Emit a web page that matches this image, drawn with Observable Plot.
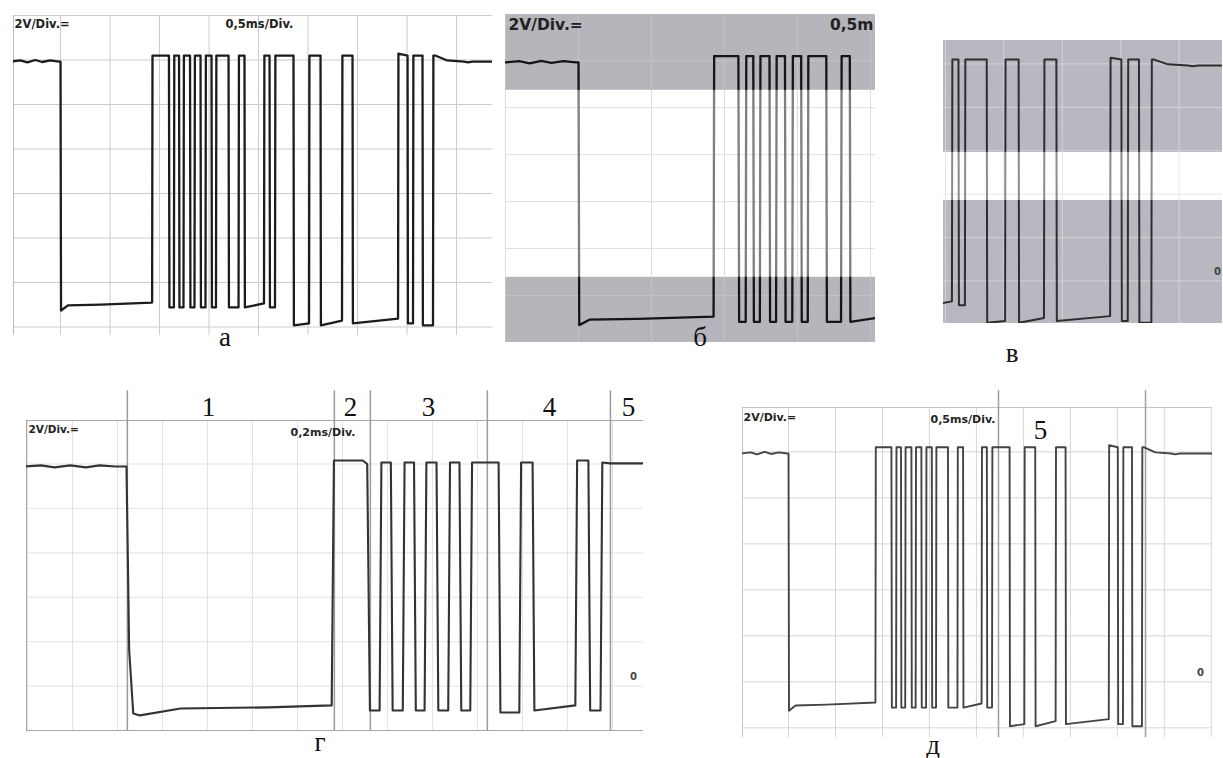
<!DOCTYPE html>
<html><head><meta charset="utf-8">
<script src="https://cdn.jsdelivr.net/npm/d3@7"></script>
<script src="https://cdn.jsdelivr.net/npm/@observablehq/plot@0.6"></script>
<style>
body{margin:0;background:#fff;}
#fig{position:relative;width:1223px;height:758px;overflow:hidden;background:#fff;}
.panel{position:absolute;}
.panel svg{display:block;overflow:hidden;}
.lbl{position:absolute;font-family:"Liberation Serif","Times New Roman",serif;font-size:27px;line-height:1;color:#111;transform:translate(-50%,-50%);}
</style></head><body><div id="fig"></div>
<script>
// ---- data (time in ms, voltage in V) ----
// K-line trace, 0.5 ms/div (panels а, б, в, д show the same capture)
const waveMs = [-0.03,0.07,0.14,0.22,0.29,0.37,0.46,0.475,0.48,0.55,0.88,1.40,
  1.404,1.57, 1.575,1.62, 1.624,1.672, 1.676,1.717, 1.721,1.783, 1.787,1.828, 1.832,1.889, 1.893,1.939,
  1.943,2.0, 2.004,2.045, 2.049,2.172, 2.176,2.273, 2.277,2.333, 2.337,2.53, 2.534,2.586, 2.59,2.641,
  2.645,2.828, 2.832,2.985, 2.989,3.101, 3.105,3.318, 3.322,3.424, 3.428,3.884, 3.888,3.98, 3.984,4.035,
  4.039,4.131, 4.135,4.237, 4.241,4.26,4.38,4.55,4.59,4.64,4.84,5.10];
const waveV = [11.93,11.98,11.89,12.00,11.91,11.98,11.93,11.93,0.74,0.97,1.01,1.10,
  12.20,12.20, 0.88,0.88, 12.20,12.20, 0.88,0.88, 12.20,12.20, 0.88,0.88, 12.20,12.20, 0.88,0.88,
  12.20,12.20, 0.88,0.88, 12.20,12.20, 0.88,0.88, 12.20,12.20, 0.88,1.06, 12.20,12.20, 0.88,0.88,
  12.20,12.20, 0.07,0.16, 12.20,12.20, 0.07,0.29, 12.20,12.20, 0.16,0.38, 12.29,12.20, 0.16,0.16,
  12.20,12.20, 0.07,0.07, 12.20,12.20,11.98,11.93,11.89,11.93,11.93,11.93];
// K-line trace, 0.2 ms/div (panel г)
const gMs = [-0.01,0.06,0.12,0.19,0.26,0.32,0.39,0.44,0.452,0.47,0.50,0.68,1.07,1.352,1.362,1.49,1.51,
  1.522,1.565, 1.573,1.615, 1.623,1.668, 1.676,1.718, 1.726,1.765, 1.773,1.818, 1.826,1.87, 1.878,1.92,
  1.928,1.968, 1.976,2.094, 2.102,2.186, 2.194,2.245, 2.253,2.435, 2.443,2.493, 2.501,2.547, 2.555,2.59,2.75];
const gV = [11.89,11.94,11.85,11.94,11.85,11.94,11.89,11.89,3.6,0.77,0.68,0.99,1.04,1.13,12.16,12.16,12.00,
  0.90,0.90, 12.07,12.07, 0.90,0.90, 12.07,12.07, 0.90,0.90, 12.07,12.07, 0.90,0.90, 12.07,12.07,
  0.90,0.90, 12.07,12.07, 0.81,0.81, 12.07,12.07, 0.90,1.13, 12.16,12.16, 0.90,0.90, 12.07,12.03,12.03];
// message sections of panel г
const sectionBoundsMs = [0.444, 1.364, 1.524, 2.044, 2.591];
const sectionNames = ["1","2","3","4","5"];
const sectionMidMs = [0.804, 1.436, 1.782, 2.32, 2.671];
// section 5 in panel д
const dBoundsMs = [2.71, 4.275];
const dNames = ["5"];
const dMidMs = [3.157];
// logic thresholds (grey zones)
const bandB = [{lo: 0, hi: 2.78}, {lo: 10.74, hi: 13.97}];
const bandV = [{lo: 0.04, hi: 5.71}, {lo: 7.92, hi: 13.08}];
const whiteB = [{lo: 2.78, hi: 10.74}];
const whiteV = [{lo: 5.71, hi: 7.92}];
// scope labels
const voltsDiv = "2V/Div.=";
const timeDivA = "0,5ms/Div.";
const timeDivCut = "0,5m";
const timeDivG = "0,2ms/Div.";
const zeroMark = "0";
const zeroMarkV = 2.4;
const panelLabels = ["а","б","в","г","д"];

// ---- build ----
const fig = document.getElementById("fig");
const wave = waveMs.map((t, i) => ({t, v: waveV[i]}));
const waveG = gMs.map((t, i) => ({t, v: gV[i]}));
const gridMs = d3.range(-0.025, 5.1, 0.5);
const gridGMs = d3.range(0, 2.75, 0.2);
const gridV = d3.range(0, 15, 2);
const sections = sectionMidMs.map((t, i) => ({t, name: sectionNames[i]}));
const dSections = dMidMs.map((t, i) => ({t, name: dNames[i]}));

function grid(xs, xd, color) {
  return [
    Plot.ruleX(xs.filter(t => t >= xd[0] - 1e-6 && t <= xd[1] + 1e-6), {stroke: color, strokeWidth: 1}),
    Plot.ruleY(gridV, {stroke: color, strokeWidth: 1, clip: true})
  ];
}
function label(txt, dx, dy, size, anchor = "top-left", ta = "start") {
  return Plot.text([txt], {frameAnchor: anchor, text: d => d, dx, dy, lineAnchor: "top", textAnchor: ta,
    fontSize: size, fontWeight: "bold", fontFamily: "DejaVu Sans, sans-serif", fill: "#222"});
}
function zero(dx) {
  return Plot.text([zeroMark], {frameAnchor: "right", y: zeroMarkV, text: d => d, dx, textAnchor: "middle",
    fontSize: 10, fontWeight: "bold", fontFamily: "DejaVu Sans, sans-serif", fill: "#444"});
}
function panel(cfg) {
  const svg = Plot.plot({
    width: cfg.w, height: cfg.h,
    marginTop: cfg.mt || 0, marginBottom: cfg.mb || 0, marginLeft: 0, marginRight: 0,
    x: {domain: cfg.xd, axis: null},
    y: {domain: cfg.yd, axis: null},
    style: {background: "transparent", overflow: "hidden"},
    marks: cfg.marks
  });
  const div = document.createElement("div");
  div.className = "panel";
  div.style.left = cfg.left + "px";
  div.style.top = cfg.top + "px";
  div.appendChild(svg);
  fig.appendChild(div);
}

// а
{
  const xd = [0, 4.838], yd = [-0.382, 14];
  panel({left: 13, top: 15, w: 479, h: 320, xd, yd, marks: [
    ...grid(gridMs, xd, "#cbcbcb"),
    Plot.ruleX([xd[0]], {stroke: "#bbb"}),
    Plot.line(wave, {x: "t", y: "v", stroke: "#1c1c1c", strokeWidth: 2.3, clip: true}),
    label(voltsDiv, 1, 4, 11.5),
    label(timeDivA, 212, 4, 11.5)
  ]});
}
// б
{
  const xd = [-0.025, 2.509], yd = [0, 13.97];
  panel({left: 505, top: 14, w: 370, h: 328, xd, yd, marks: [
    Plot.rect(bandB, {x1: xd[0], x2: xd[1], y1: "lo", y2: "hi", fill: "#b5b5bb"}),
    ...grid(gridMs, xd, "#c4c4c4"),
    Plot.line(wave, {x: "t", y: "v", stroke: "#151515", strokeWidth: 2.3, clip: true}),
    Plot.rect(whiteB, {x1: xd[0], x2: xd[1], y1: "lo", y2: "hi", fill: "#fff", fillOpacity: 0.45}),
    label(voltsDiv, 3, 4, 15.5),
    label(timeDivCut, -2, 4, 15.5, "top-right", "end")
  ]});
}
// в
{
  const xd = [2.458, 4.846], yd = [0.04, 13.08];
  panel({left: 943, top: 40, w: 279, h: 283, xd, yd, marks: [
    Plot.rect(bandV, {x1: xd[0], x2: xd[1], y1: "lo", y2: "hi", fill: "#b8b8c0"}),
    ...grid(gridMs, xd, "#d2d2d6"),
    Plot.line(wave, {x: "t", y: "v", stroke: "#2e2e2e", strokeWidth: 2, clip: true}),
    Plot.rect(whiteV, {x1: xd[0], x2: xd[1], y1: "lo", y2: "hi", fill: "#fff", fillOpacity: 0.45}),
    zero(-5)
  ]});
}
// г
{
  const xd = [-0.0044, 2.738], yd = [0, 13.96];
  panel({left: 26, top: 388, w: 617, h: 347, mt: 32, mb: 5, xd, yd, marks: [
    ...grid(gridGMs, xd, "#e2e2e2"),
    Plot.frame({stroke: "#a8a8a8"}),
    Plot.ruleX(sectionBoundsMs, {y1: 0, y2: 15.3, stroke: "#9a9a9a", strokeWidth: 1.5}),
    Plot.text(sections, {x: "t", y: () => 14.55, text: "name", fontSize: 27,
      fontFamily: "Liberation Serif, Times New Roman, serif", fill: "#111"}),
    Plot.line(waveG, {x: "t", y: "v", stroke: "#333", strokeWidth: 2.1, clip: true}),
    label(voltsDiv, 2, 5, 10.5),
    label(timeDivG, 264, 8, 11),
    zero(-10)
  ]});
}
// д
{
  const xd = [-0.015, 4.988], yd = [-0.42, 13.93];
  panel({left: 742, top: 390, w: 470, h: 347, mt: 17, mb: 0, xd, yd, marks: [
    ...grid(gridMs, xd, "#d6d6d6"),
    Plot.frame({stroke: "#c4c4c4"}),
    Plot.ruleX(dBoundsMs, {y1: -0.42, y2: 14.67, stroke: "#a0a0a0", strokeWidth: 1.5}),
    Plot.text(dSections, {x: "t", y: () => 12.93, text: "name", fontSize: 27,
      fontFamily: "Liberation Serif, Times New Roman, serif", fill: "#111"}),
    Plot.line(wave, {x: "t", y: "v", stroke: "#444", strokeWidth: 1.9, clip: true}),
    label(voltsDiv, 1, 6, 11),
    label(timeDivA, 188, 8, 11),
    zero(-12)
  ]});
}
// panel captions
const labelPos = [[225, 337], [700, 337], [1012, 353], [320, 742], [933, 745]];
panelLabels.forEach((s, i) => {
  const d = document.createElement("div");
  d.className = "lbl";
  d.textContent = s;
  d.style.left = labelPos[i][0] + "px";
  d.style.top = labelPos[i][1] + "px";
  fig.appendChild(d);
});
</script></body></html>
